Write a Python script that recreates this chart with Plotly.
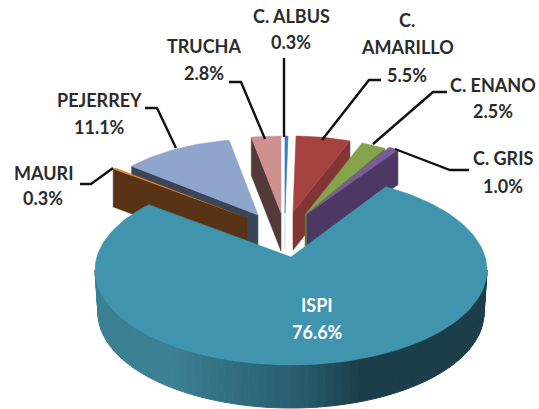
import math
import plotly.graph_objects as go

# ---- data ----
categories = ["C. ALBUS", "C. AMARILLO", "C. ENANO", "C. GRIS", "ISPI", "MAURI", "PEJERREY", "TRUCHA"]
values = [0.3, 5.5, 2.5, 1.0, 76.6, 0.3, 11.1, 2.8]

# ---- styles: projected look of each exploded slice (pixel space) ----
top_colors = ["#3A7CBF", "#A54340", "#84A34A", "#7A5C9A", "#4094AE", "#E0802A", "#8FA5CC", "#CF9090"]
wall_colors = ["#C9D6E6", "#823534", "#5F7A34", "#4C3863", "#2A5F72", "#593316", "#3A4658", "#54393A"]
apex_x = [285, 293, 305, 307, 291, 247, 258, 281]
apex_y = [213, 212, 215, 214, 257, 218, 215, 213]
rim_x = [285, 293, 305, 307, 291, 247, 258, 281]
rim_y = [213, 212, 215, 214, 270, 218, 215, 213]
radius_x = [165, 160, 160, 165, 196, 172, 165, 170]
radius_y = [77, 76, 77, 77, 95, 78, 76, 77]
wall_h = [36, 38, 34, 35, 43, 38, 38, 38]
wall_edge = ["start", "end", "end", "end", None, "start", "start", "start"]
draw_order = [7, 0, 1, 2, 3, 6, 5, 4]
ISPI = 4
MAURI = 5
ispi_stretch = 1.033
ispi_pivot = 171.4
ramp_x = [95, 170, 240, 300, 360, 490]
ramp_rgb = [(58, 127, 146), (60, 128, 148), (48, 108, 126), (40, 92, 108), (27, 62, 74), (28, 62, 72)]

label_font = "Lato"
label_size = 18
label_color = "#2B2B2B"
label_lines = [
    (["C. ALBUS", "0.3%"], 291, [16, 42]),
    (["C.", "AMARILLO", "5.5%"], 407, [20, 47, 75]),
    (["C. ENANO", "2.5%"], 493, [85, 111]),
    (["C. GRIS", "1.0%"], 503, [158, 186]),
    (["ISPI", "76.6%"], 317, [305, 332]),
    (["MAURI", "0.3%"], 43, [173, 198]),
    (["PEJERREY", "11.1%"], 99, [100, 127]),
    (["TRUCHA", "2.8%"], 204, [46, 73]),
]
leaders = [
    [(284, 58), (284, 137)],
    [(381, 80), (369, 80), (322, 140)],
    [(447, 92), (433, 92), (373, 144)],
    [(469, 170), (450, 170), (395, 149)],
    None,
    [(80, 184), (91, 184), (113, 168)],
    [(145, 108), (157, 108), (176, 148)],
    [(229, 82), (241, 82), (265, 139)],
]

# ---- geometry from values ----
total = sum(values)
starts, ends = [], []
run = 0.0
for v in values:
    starts.append(run / total * 360)
    run += v
    ends.append(run / total * 360)


def rim_point(i, deg):
    if i == ISPI:
        deg = ispi_pivot + (deg - ispi_pivot) * ispi_stretch
    a = math.radians(deg)
    return rim_x[i] + radius_x[i] * math.sin(a), rim_y[i] - radius_y[i] * math.cos(a)


def rim_arc(i):
    n = max(3, int((ends[i] - starts[i]) / 1.5))
    return [rim_point(i, starts[i] + (ends[i] - starts[i]) * k / n) for k in range(n + 1)]


def poly(pts, color, line=0.5):
    xs = [p[0] for p in pts] + [pts[0][0]]
    ys = [p[1] for p in pts] + [pts[0][1]]
    return go.Scatter(x=xs, y=ys, mode="lines", fill="toself", fillcolor=color,
                      line=dict(color=color, width=line), hoverinfo="skip", showlegend=False)


def ramp(x):
    for j in range(len(ramp_x) - 1):
        if x <= ramp_x[j + 1]:
            t = max(0.0, (x - ramp_x[j]) / (ramp_x[j + 1] - ramp_x[j]))
            c = [round(ramp_rgb[j][m] + (ramp_rgb[j + 1][m] - ramp_rgb[j][m]) * t) for m in range(3)]
            return f"rgb({c[0]},{c[1]},{c[2]})"
    return "rgb(%d,%d,%d)" % ramp_rgb[-1]


fig = go.Figure()
for i in draw_order:
    apex = (apex_x[i], apex_y[i])
    arc = rim_arc(i)
    if i == ISPI:
        # outer wall, shaded in strips
        wall_cx, wall_cy, wall_rx, wall_ry = rim_x[i], rim_y[i] + wall_h[i], radius_x[i] - 3, radius_y[i]
        steps = 72
        for k in range(steps):
            a0 = math.radians(90 + k * 180 / steps)
            a1 = math.radians(90 + (k + 1) * 180 / steps)
            p = [(rim_x[i] + radius_x[i] * math.sin(a0), rim_y[i] - radius_y[i] * math.cos(a0)),
                 (rim_x[i] + radius_x[i] * math.sin(a1), rim_y[i] - radius_y[i] * math.cos(a1)),
                 (wall_cx + wall_rx * math.sin(a1), wall_cy - wall_ry * math.cos(a1)),
                 (wall_cx + wall_rx * math.sin(a0), wall_cy - wall_ry * math.cos(a0))]
            fig.add_trace(poly(p, ramp((p[0][0] + p[1][0]) / 2), line=1))
    else:
        corner = arc[0] if wall_edge[i] == "start" else arc[-1]
        h = wall_h[i]
        fig.add_trace(poly([apex, corner, (corner[0], corner[1] + h), (apex[0], apex[1] + h)], wall_colors[i]))
    fig.add_trace(poly([apex] + arc, top_colors[i], line=0 if i == MAURI else 0.5))

shapes = []
for pts in leaders:
    if pts:
        path = "M " + " L ".join(f"{x} {y}" for x, y in pts)
        shapes.append(dict(type="path", path=path, xref="x", yref="y",
                           line=dict(color="#111111", width=2.4)))

annotations = []
for i, (lines, x, ys) in enumerate(label_lines):
    color = "#FFFFFF" if i == ISPI else label_color
    for text, y in zip(lines, ys):
        annotations.append(dict(x=x, y=y, xref="x", yref="y", text=text, showarrow=False,
                                xanchor="center", yanchor="middle",
                                font=dict(family=label_font, size=label_size, color=color, weight="bold")))

fig.update_layout(
    width=539, height=409, margin=dict(l=0, r=0, t=0, b=0),
    paper_bgcolor="white", plot_bgcolor="white", showlegend=False,
    xaxis=dict(range=[0, 539], visible=False, fixedrange=True),
    yaxis=dict(range=[409, 0], visible=False, fixedrange=True),
    shapes=shapes, annotations=annotations,
)
fig.write_html("out.html", config={"displayModeBar": False},
               post_script="document.body.style.margin='0';document.body.style.overflow='hidden';")
